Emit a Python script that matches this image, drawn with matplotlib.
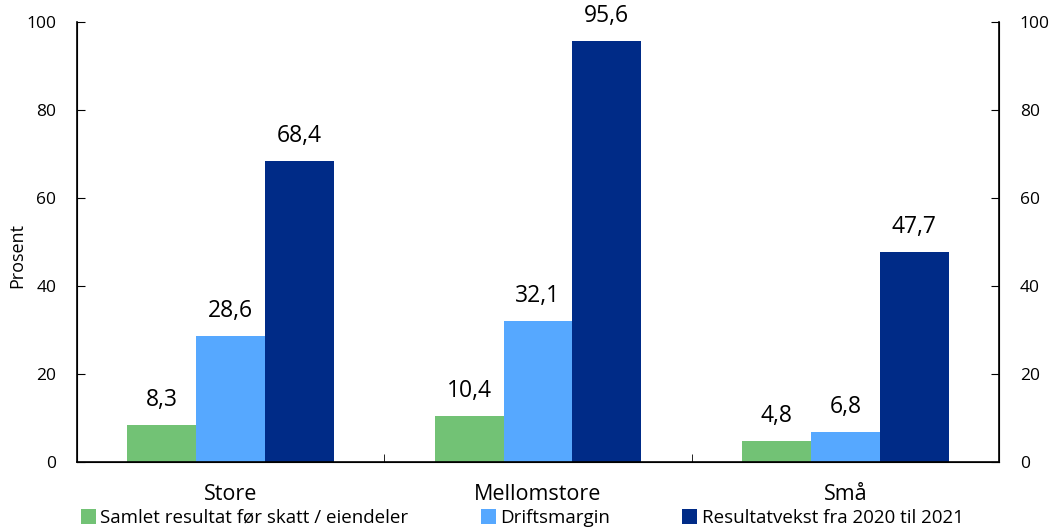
import numpy as np
import matplotlib
matplotlib.use("Agg")
import matplotlib.pyplot as plt

plt.rcParams['font.family'] = ['Open Sans', 'DejaVu Sans']

# data
kategorier = ["Store", "Mellomstore", "Små"]
serier = ["Samlet resultat før skatt / eiendeler", "Driftsmargin", "Resultatvekst fra 2020 til 2021"]
samlet = [8.3, 10.4, 4.8]
drift = [28.6, 32.1, 6.8]
vekst = [68.4, 95.6, 47.7]
farger = ["#72C275", "#56A8FF", "#002B87"]

fig = plt.figure(figsize=(10.55, 5.27), dpi=100)
ax = fig.add_axes([77/1055, 1 - 462/527, (999-77)/1055, (462-22)/527])

x = np.arange(len(kategorier))
w = 0.224
for i, (vals, navn, f) in enumerate(zip([samlet, drift, vekst], serier, farger)):
    pos = x + (i - 1) * w
    ax.bar(pos, vals, width=w, color=f, label=navn)
    for p, v in zip(pos, vals):
        ax.text(p, v + 3, f"{v:.1f}".replace(".", ","), ha="center", va="bottom", fontsize=16.5)

ax.set_xlim(-0.5, 2.5)
ax.set_ylim(0, 100)
ax.set_yticks(range(0, 101, 20))
ax.tick_params(axis="y", direction="in", labelsize=12.5, length=6, pad=15)
ax.set_xticks(x)
ax.set_xticklabels(kategorier, fontsize=15.5)
ax.tick_params(axis="x", length=0, pad=16)
# skillestreker mellom kategoriene
ax.set_xticks([0.5, 1.5], minor=True)
ax.tick_params(axis="x", which="minor", direction="in", length=6)
ax.spines["top"].set_visible(False)
for s in ["left", "right", "bottom"]:
    ax.spines[s].set_linewidth(1.2)
ax.set_ylabel("Prosent", fontsize=13)
ax.yaxis.set_label_coords(-0.055, 0.47)

ax2 = ax.twinx()
ax2.set_ylim(0, 100)
ax2.set_yticks(range(0, 101, 20))
ax2.tick_params(axis="y", direction="in", labelsize=12.5, length=6, pad=15)
ax2.spines["top"].set_visible(False)

fig.legend(loc="lower left", bbox_to_anchor=(73/1055, -0.014), ncol=3, frameon=False,
           fontsize=13.5, handlelength=0.8, handleheight=0.8, handletextpad=0.25,
           columnspacing=3.85, borderaxespad=0)

fig.savefig("out.png", dpi=100)
